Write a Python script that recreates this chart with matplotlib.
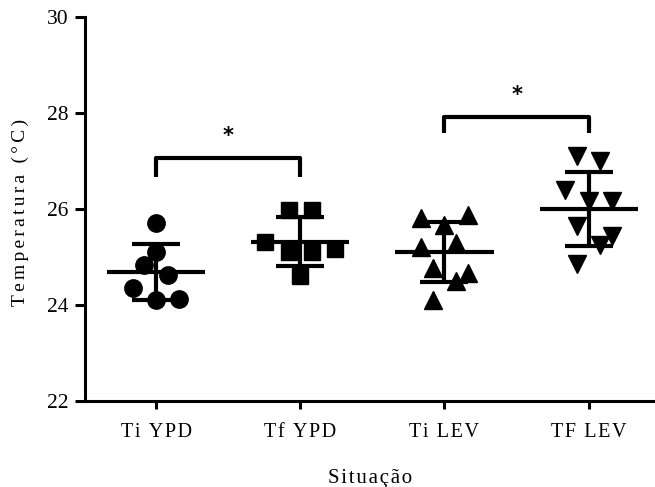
import numpy as np
import matplotlib
matplotlib.use("Agg")
import matplotlib.pyplot as plt

plt.rcParams['font.family'] = ['Liberation Serif', 'DejaVu Serif']

# Temperature readings (°C) per situation
categories = ["Ti YPD", "Tf YPD", "Ti LEV", "TF LEV"]
ti_ypd = [25.70, 25.11, 24.83, 24.62, 24.35, 24.10, 24.12]
tf_ypd = [25.98, 25.98, 25.30, 25.11, 25.11, 25.16, 24.60]
ti_lev = [25.81, 25.87, 25.67, 25.21, 25.29, 24.76, 24.66, 24.49, 24.10]
tf_lev = [27.10, 27.00, 26.40, 26.17, 26.17, 25.65, 25.44, 25.24, 24.86]
groups = [ti_ypd, tf_ypd, ti_lev, tf_lev]

# Side-by-side slots so overlapping dots stay visible (in half-marker steps)
spread = [
    [0, 0, -1, 1, -2, 0, 2],
    [-1, 1, -3, -1, 1, 3, 0],
    [-2, 2, 0, -2, 1, -1, 2, 1, -1],
    [-1, 1, -2, 0, 2, -1, 2, 1, -1],
]
markers = ["o", "s", "^", "v"]
marker_sizes = [12.5, 11.5, 12.5, 12.5]
slot = 0.081

# Significance brackets: (left group, right group, leg bottom, bar top, label)
brackets = [(0, 1, 26.67, 27.06, "*"), (2, 3, 27.58, 27.92, "*")]


def spaced(s, n=1):
    return ("\u200a" * n).join(s)


fig = plt.figure(figsize=(6.55, 4.87), dpi=100)
ax = fig.add_axes([0.130, 0.1766, 0.870, 0.789])

for i, vals in enumerate(groups):
    vals = np.asarray(vals)
    xs = i + slot * np.asarray(spread[i])
    mean = vals.mean()
    sd = vals.std(ddof=1)
    ax.hlines(mean, i - 0.34, i + 0.34, color="black", lw=3, zorder=2)
    ax.errorbar(i, mean, yerr=sd, fmt="none", ecolor="black", elinewidth=3,
                capsize=17, capthick=3, zorder=2)
    ax.plot(xs, vals, linestyle="none", marker=markers[i],
            ms=marker_sizes[i], color="black", zorder=3)

for a, b, lo, hi, lab in brackets:
    ax.plot([a, a, b, b], [lo, hi, hi, lo], color="black", lw=3,
            solid_joinstyle="round", solid_capstyle="butt", zorder=2)
    ax.text((a + b) / 2, hi + 0.45, lab, ha="center", va="center",
            fontsize=15, fontweight="bold", family="DejaVu Sans")

ax.set_xlim(-0.492, 3.46)
ax.set_ylim(22, 30)
ax.set_yticks([22, 24, 26, 28, 30])
ax.set_xticks(range(len(categories)))
ax.set_xticklabels([spaced(c) for c in categories])

for side in ("top", "right"):
    ax.spines[side].set_visible(False)
for side in ("left", "bottom"):
    ax.spines[side].set_linewidth(2.2)
    ax.spines[side].set_capstyle("projecting")

ax.tick_params(axis="y", length=7, width=2.2, labelsize=15.5, pad=5)
ax.tick_params(axis="x", length=6, width=2.2, labelsize=14.5, pad=10)

ax.set_ylabel(spaced("Temperatura (°C)", 2), fontsize=14, va="center")
ax.yaxis.set_label_coords(-0.114, 0.49)
ax.set_xlabel(spaced("Situação"), fontsize=15, va="center")
ax.xaxis.set_label_coords(0.50, -0.203)

fig.savefig("out.png", dpi=100)
